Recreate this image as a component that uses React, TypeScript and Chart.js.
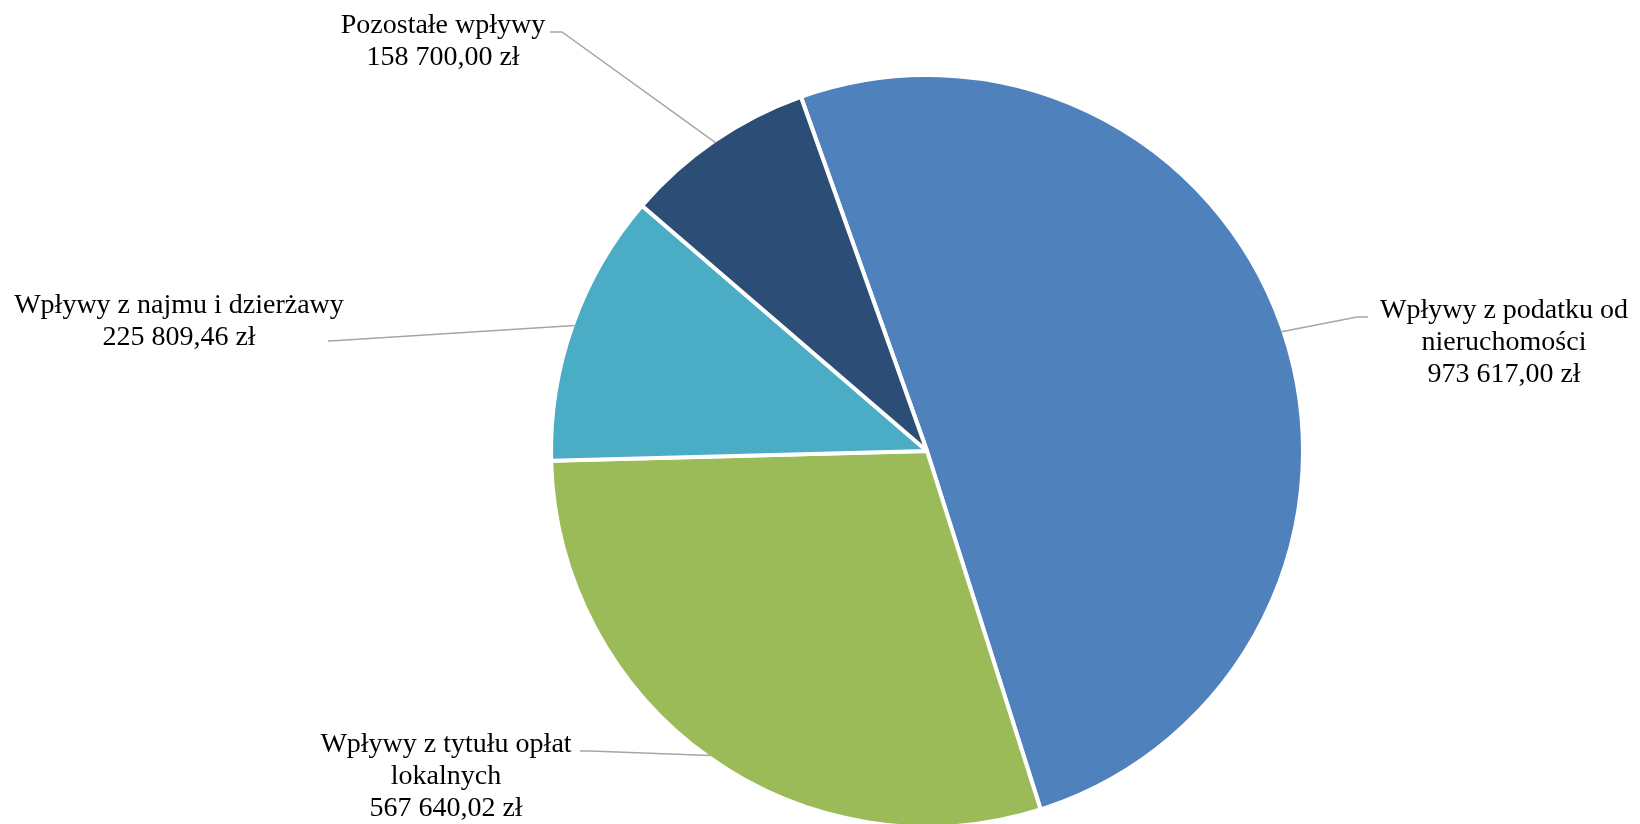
import React, { useEffect, useRef } from "react";
import { Chart, registerables } from "chart.js";

Chart.register(...registerables);

const categories: string[][] = [
  ["Wpływy z podatku od", "nieruchomości"],
  ["Wpływy z tytułu opłat", "lokalnych"],
  ["Wpływy z najmu i dzierżawy"],
  ["Pozostałe wpływy"],
];
const values: number[] = [973617.0, 567640.02, 225809.46, 158700.0];
const colors: string[] = ["#4F81BD", "#9BBB59", "#4BACC6", "#2C4D75"];

// label placement relative to pie centre (px): text centre x, first baseline y,
// leader-line anchor at the label, and stub end
const labelPlacement = [
  { cx: 577, by: -133, ax: 441, ay: -134, sx: 430, sy: -134 },
  { cx: -481, by: 301, ax: -347, ay: 300, sx: -337, sy: 300 },
  { cx: -748, by: -138, ax: -599, ay: -110, sx: -589, sy: -110.6 },
  { cx: -484, by: -418, ax: -377, ay: -419, sx: -365, sy: -419 },
];

function formatZl(v: number): string {
  const [int, dec] = v.toFixed(2).split(".");
  const grouped = int.replace(/\B(?=(\d{3})+(?!\d))/g, " ");
  return `${grouped},${dec} zł`;
}

const labelPlugin = {
  id: "excelLabels",
  afterDatasetsDraw(chart: any) {
    const ctx: CanvasRenderingContext2D = chart.ctx;
    const meta = chart.getDatasetMeta(0);
    ctx.save();
    meta.data.forEach((arc: any, i: number) => {
      const { x, y, startAngle, endAngle, outerRadius } = arc.getProps(
        ["x", "y", "startAngle", "endAngle", "outerRadius"],
        true
      );
      const mid = (startAngle + endAngle) / 2;
      const ex = x + Math.cos(mid) * (outerRadius - 2);
      const ey = y + Math.sin(mid) * (outerRadius - 2);
      const p = labelPlacement[i];
      ctx.strokeStyle = "#A6A6A6";
      ctx.lineWidth = 1.5;
      ctx.beginPath();
      ctx.moveTo(x + p.ax, y + p.ay);
      ctx.lineTo(x + p.sx, y + p.sy);
      ctx.lineTo(ex, ey);
      ctx.stroke();

      const lines = [...categories[i], formatZl(values[i])];
      ctx.fillStyle = "#000000";
      ctx.font = "28px 'Liberation Serif', 'Times New Roman', serif";
      ctx.textAlign = "center";
      ctx.textBaseline = "alphabetic";
      lines.forEach((t, k) => {
        ctx.fillText(t, x + p.cx, y + p.by + k * 32);
      });
    });
    ctx.restore();
  },
};

export default function App() {
  const ref = useRef<HTMLCanvasElement>(null);
  useEffect(() => {
    document.body.style.margin = "0";
    document.body.style.overflow = "hidden";
    const canvas = ref.current!;
    const chart = new Chart(canvas, {
      type: "pie",
      data: {
        labels: categories.map((c) => c.join(" ")),
        datasets: [
          {
            data: values,
            backgroundColor: colors,
            borderColor: "#FFFFFF",
            borderWidth: 4,
            clip: false as any,
          } as any,
        ],
      },
      options: {
        responsive: false,
        animation: false,
        devicePixelRatio: 1,
        rotation: -19.6,
        radius: 376,
        layout: { padding: { left: 214, top: 78, right: 0, bottom: 0 } },
        plugins: {
          legend: { display: false },
          title: { display: false },
          tooltip: { enabled: false },
        },
      } as any,
      plugins: [labelPlugin],
    });
    return () => chart.destroy();
  }, []);
  return (
    <div style={{ width: 1640, height: 824, background: "#FFFFFF" }}>
      <canvas ref={ref} width={1640} height={824} style={{ display: "block" }} />
    </div>
  );
}
